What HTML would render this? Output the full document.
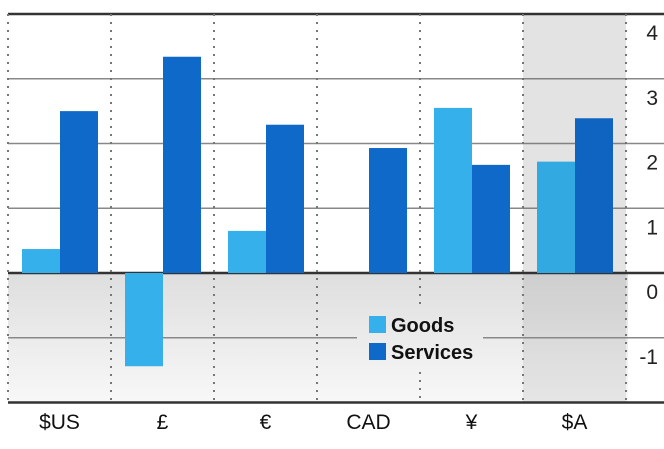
<!DOCTYPE html>
<html><head><meta charset="utf-8"><style>
html,body{margin:0;padding:0;background:#fff;width:664px;height:449px;overflow:hidden}
svg text{font-family:"Liberation Sans","DejaVu Sans",sans-serif}
</style></head><body>
<svg id="chart" width="664" height="449">
<defs><linearGradient id="neg" x1="0" y1="0" x2="0" y2="1"><stop offset="0" stop-color="#dedede"/><stop offset="1" stop-color="#f8f8f8"/></linearGradient></defs>
</svg>
<script>
const categories=["$US","£","€","CAD","¥","$A"];
const goods=[0.37,-1.44,0.65,0,2.55,1.72];
const services=[2.5,3.34,2.29,1.93,1.67,2.39];
const ticks=[4,3,2,1,0,-1,-2];
const tickLabels=["4","3","2","1","0","-1"];
const NS="http://www.w3.org/2000/svg";
const svg=document.getElementById('chart');
const x0=8,colW=103,yTop=14,unit=64.75,vmax=4;
const y=v=>yTop+(vmax-v)*unit;
const cx=i=>x0+i*colW;
function mk(t,a){const e=document.createElementNS(NS,t);for(const k in a)e.setAttribute(k,a[k]);svg.appendChild(e);return e;}
let r=mk('rect',{x:x0,y:y(0),width:620,height:y(-2)-y(0),fill:'url(#neg)'});


r=mk('rect',{x:cx(5),y:y(4),width:colW,height:y(-2)-y(4),fill:'#000',opacity:0.07});


ticks.forEach((t,i)=>{
  const strong=(t===4||t===0||t===-2);
  const attrs={stroke:strong?'#333':'#888','stroke-width':strong?2.5:1.5};
  if(t===-1){
    let a=mk('line',Object.assign({x1:x0,x2:357,y1:y(t),y2:y(t)},attrs));
    
    
    a=mk('line',Object.assign({x1:483,x2:664,y1:y(t),y2:y(t)},attrs));
    
    
  } else {
    const g=mk('line',Object.assign({x1:x0,x2:664,y1:y(t),y2:y(t)},attrs));
    
    
  }
  if(i<tickLabels.length){
    const tx=mk('text',{x:658,y:y(t)+26,'text-anchor':'end','font-size':21,fill:'#222'});
    tx.textContent=tickLabels[i];
    
    
  }
});
for(let i=0;i<=6;i++){
  const segs=(i===4)?[[y(4),305],[372,y(-2)]]:[[y(4),y(-2)]];
  segs.forEach(([a,b])=>{
    const l=mk('line',{x1:cx(i),x2:cx(i),y1:a,y2:b,stroke:'#777','stroke-width':2,'stroke-dasharray':'2 6'});
    
    
  });
}
categories.forEach((c,i)=>{
  const bx=cx(i)+14,bw=38;
  [[goods[i],'#35b0ea',0,'bar-goods'],[services[i],'#0f69c8',bw,'bar-services']].forEach(([v,col,off,nm])=>{
    if(v===0)return;
    const b=mk('rect',{x:bx+off,y:Math.min(y(v),y(0)),width:bw,height:Math.abs(y(v)-y(0)),fill:col});
    
    
  });
  const t=mk('text',{x:cx(i)+colW/2,y:429,'text-anchor':'middle','font-size':21,fill:'#111'});
  t.textContent=c;
  
  
});
r=mk('rect',{x:cx(5),y:y(4),width:colW,height:y(0)-y(4),fill:'#000',opacity:0.04});


[['Goods','#35b0ea',316],['Services','#0f69c8',343]].forEach(([n,col,yy])=>{
  const s=mk('rect',{x:369,y:yy,width:17,height:17,fill:col});
  
  
  const t=mk('text',{x:391,y:yy+16,'font-size':20,'font-weight':'bold',fill:'#111'});
  t.textContent=n;
  
  
});
</script>
</body></html>
